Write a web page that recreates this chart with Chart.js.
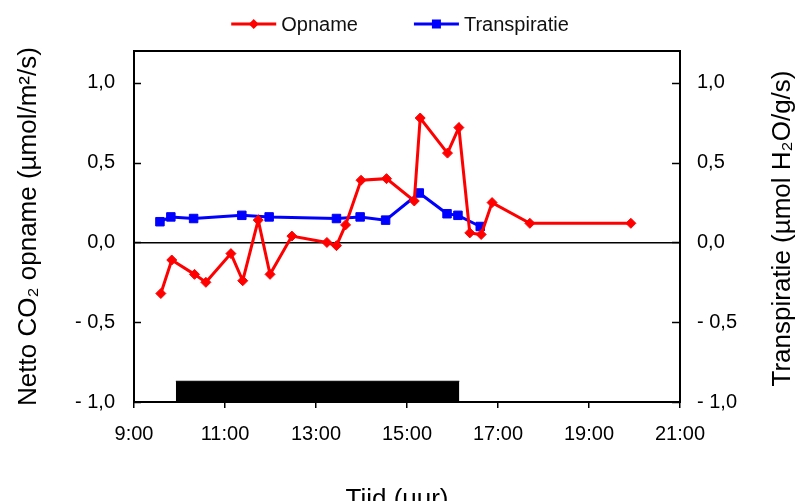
<!DOCTYPE html>
<html>
<head>
<meta charset="utf-8">
<script src="https://cdn.jsdelivr.net/npm/chart.js@4/dist/chart.umd.min.js"></script>
<style>
html,body{margin:0;padding:0;background:#fff;}
#wrap{width:797px;height:501px;position:relative;}
</style>
</head>
<body>
<div id="wrap"><canvas id="c" width="797" height="501"></canvas></div>
<script>
// ---- data ----
const opnameTime  = [9.59, 9.83, 10.33, 10.58, 11.13, 11.39, 11.73, 11.99, 12.47, 13.24, 13.45, 13.65, 13.99, 14.55, 15.16, 15.29, 15.89, 16.14, 16.38, 16.63, 16.87, 17.70, 19.92];
const opnameValue = [-0.32, -0.11, -0.20, -0.25, -0.07, -0.24, 0.14, -0.20, 0.04, 0.00, -0.02, 0.11, 0.39, 0.40, 0.26, 0.78, 0.56, 0.72, 0.06, 0.05, 0.25, 0.12, 0.12];
const transTime   = [9.57, 9.81, 10.31, 11.37, 11.97, 13.45, 13.97, 14.53, 15.27, 15.88, 16.12, 16.61];
const transValue  = [0.13, 0.16, 0.15, 0.17, 0.16, 0.15, 0.16, 0.14, 0.31, 0.18, 0.17, 0.10];
const darkPeriod  = [9.92, 16.15];   // dark bar start / end (hours)
const darkBarLevel = [-1.0, -0.87];  // bar base / top
const xTicks = [9, 11, 13, 15, 17, 19, 21];
const yTicks = [-1.0, -0.5, 0.0, 0.5, 1.0];
const seriesLabels = ['Opname', 'Transpiratie'];
const xTitle = 'Tijd (uur)';
const yTitle = 'Netto CO\u2082 opname (\u00b5mol/m\u00b2/s)';
const y1Title = 'Transpiratie (\u00b5mol H\u2082O/g/s)';

const RED = '#ff0000', BLUE = '#0000ff';
const TICK_FONT = {family: "'Liberation Sans', Arial, sans-serif", size: 20};
const TITLE_FAMILY = "'Liberation Sans', Arial, sans-serif";
const TITLE_SIZE = 26;

const fmt = v => (v < 0 ? '- ' : '') + Math.abs(v).toFixed(1).replace('.', ',');
const zip = (xs, ys) => xs.map((x, i) => ({x, y: ys[i]}));

const decor = {
  id: 'decor',
  afterDraw(chart) {
    const {ctx, chartArea: a, scales} = chart;
    ctx.save();
    ctx.strokeStyle = '#000';
    // top frame line
    ctx.lineWidth = 2;
    ctx.beginPath();
    ctx.moveTo(a.left - 1, a.top); ctx.lineTo(a.right + 1, a.top);
    ctx.stroke();
    // inner tick marks on both value axes
    ctx.lineWidth = 1.5;
    scales.y.ticks.forEach(t => {
      const py = Math.round(scales.y.getPixelForValue(t.value)) + 0.5;
      ctx.beginPath(); ctx.moveTo(a.left, py); ctx.lineTo(a.left + 7, py); ctx.stroke();
    });
    scales.y1.ticks.forEach(t => {
      const py = Math.round(scales.y1.getPixelForValue(t.value)) + 0.5;
      ctx.beginPath(); ctx.moveTo(a.right - 8, py); ctx.lineTo(a.right, py); ctx.stroke();
    });
    // legend
    ctx.font = "20px 'Liberation Sans', Arial, sans-serif";
    ctx.textBaseline = 'middle';
    ctx.textAlign = 'left';
    const lineLen = 45, gapTxt = 5, gapItem = 56, ly = 24;
    const items = chart.data.datasets.slice(0, 2);
    const widths = items.map(d => lineLen + gapTxt + ctx.measureText(d.label).width);
    let x = 400 - (widths[0] + widths[1] + gapItem) / 2;
    items.forEach((d, i) => {
      ctx.strokeStyle = d.borderColor; ctx.lineWidth = 3;
      ctx.beginPath(); ctx.moveTo(x, ly); ctx.lineTo(x + lineLen, ly); ctx.stroke();
      ctx.fillStyle = d.borderColor;
      const cx = x + lineLen / 2;
      ctx.beginPath();
      if (d.pointStyle === 'rectRot') {
        ctx.moveTo(cx - 5, ly); ctx.lineTo(cx, ly - 5); ctx.lineTo(cx + 5, ly); ctx.lineTo(cx, ly + 5);
      } else {
        ctx.rect(cx - 4.5, ly - 4.5, 9, 9);
      }
      ctx.closePath(); ctx.fill();
      ctx.fillStyle = '#111';
      ctx.fillText(d.label, x + lineLen + gapTxt, ly + 1);
      x += widths[i] + gapItem;
    });
    // right axis title (reads bottom-to-top) and x axis title
    ctx.fillStyle = '#000';
    ctx.font = TITLE_SIZE + "px " + TITLE_FAMILY;
    ctx.textAlign = 'center';
    ctx.textBaseline = 'alphabetic';
    ctx.save();
    ctx.translate(790, (a.top + a.bottom) / 2 + 2);
    ctx.rotate(-Math.PI / 2);
    ctx.fillText(y1Title, 0, 0);
    ctx.restore();
    ctx.fillText(xTitle, 397, 507);
    ctx.restore();
  }
};

new Chart(document.getElementById('c'), {
  type: 'line',
  data: {
    datasets: [
      {
        label: seriesLabels[0], data: zip(opnameTime, opnameValue), yAxisID: 'y',
        borderColor: RED, backgroundColor: RED, borderWidth: 3,
        pointStyle: 'rectRot', pointRadius: 5, pointBorderWidth: 1,
        pointBackgroundColor: RED, pointBorderColor: RED, tension: 0, order: 0
      },
      {
        label: seriesLabels[1], data: zip(transTime, transValue), yAxisID: 'y',
        borderColor: BLUE, backgroundColor: BLUE, borderWidth: 3,
        pointStyle: 'rect', pointRadius: 6, pointBorderWidth: 1,
        pointBackgroundColor: BLUE, pointBorderColor: BLUE, tension: 0, order: 1
      },
      {
        label: 'donker', data: darkPeriod.map(x => ({x, y: darkBarLevel[1]})), yAxisID: 'y',
        borderColor: '#000', backgroundColor: '#000', borderWidth: 1,
        pointRadius: 0, fill: {value: darkBarLevel[0]}, order: 2
      }
    ]
  },
  options: {
    responsive: false,
    animation: false,
    events: [],
    layout: {padding: {top: 51, left: 0, right: 0, bottom: 0}},
    plugins: {legend: {display: false}, tooltip: {enabled: false}, title: {display: false}},
    scales: {
      x: {
        type: 'linear', min: 9, max: 21,
        afterBuildTicks: s => { s.ticks = xTicks.map(v => ({value: v})); },
        afterFit: s => { s.height = 99; },
        ticks: {font: TICK_FONT, color: '#000', padding: 14, maxRotation: 0,
                callback: v => v + ':00'},
        grid: {drawOnChartArea: false, drawTicks: true, tickLength: 6, color: '#000', lineWidth: 1.5},
        border: {display: true, color: '#000', width: 2}
      },
      y: {
        type: 'linear', position: 'left', min: -1, max: 1.2,
        afterBuildTicks: s => { s.ticks = yTicks.map(v => ({value: v})); },
        afterFit: s => { s.width = 134; },
        ticks: {font: TICK_FONT, color: '#000', padding: 19, callback: fmt},
        grid: {drawOnChartArea: true, drawTicks: false,
               color: c => (c.tick && c.tick.value === 0 ? '#000' : 'rgba(0,0,0,0)'), lineWidth: 1.5},
        border: {display: true, color: '#000', width: 2},
        title: {display: true, text: yTitle, color: '#000',
                font: {family: TITLE_FAMILY, size: TITLE_SIZE}, padding: {top: 13, bottom: 0}}
      },
      y1: {
        type: 'linear', position: 'right', min: -1, max: 1.2,
        afterBuildTicks: s => { s.ticks = yTicks.map(v => ({value: v})); },
        afterFit: s => { s.width = 117; },
        ticks: {font: TICK_FONT, color: '#000', padding: 17, callback: fmt},
        grid: {display: false, drawTicks: false},
        border: {display: true, color: '#000', width: 2}
      }
    }
  },
  plugins: [decor]
});
</script>
</body>
</html>
